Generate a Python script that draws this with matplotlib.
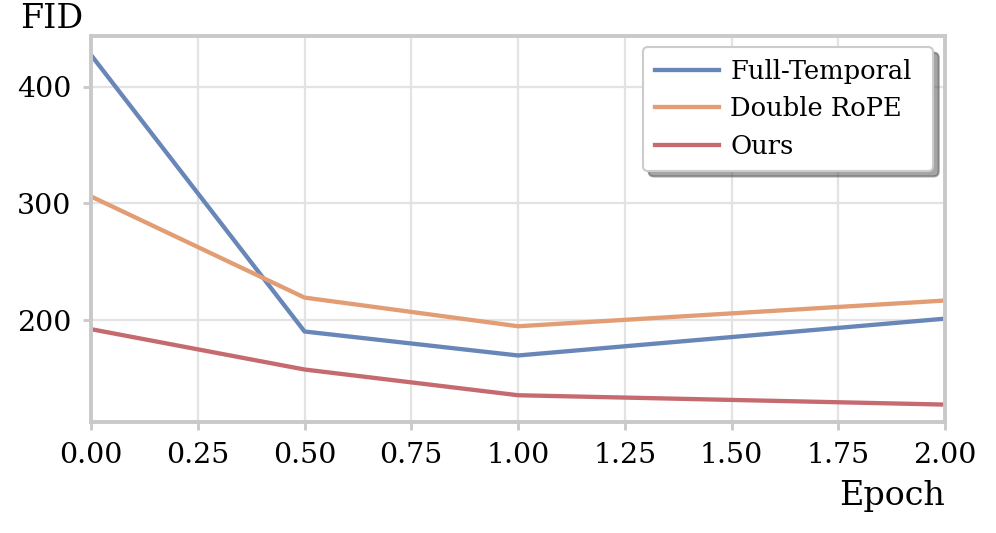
import matplotlib

matplotlib.use("Agg")
import matplotlib.pyplot as plt

epochs = [0.0, 0.5, 1.0, 2.0]
full_temporal = [427, 190.5, 170, 201.5]
double_rope = [306, 219.5, 195, 217]
ours = [192.5, 158, 136, 128]

series = [
    ("Full-Temporal", full_temporal, "#6886b7"),
    ("Double RoPE", double_rope, "#e29d75"),
    ("Ours", ours, "#c56b6f"),
]

plt.rcParams.update({
    "font.family": "DejaVu Serif",
    "font.size": 20,
})

fig = plt.figure(figsize=(9.96, 5.33), dpi=100)
ax = fig.add_axes([0.0914, 0.208, 0.8575, 0.724])

for label, vals, color in series:
    ax.plot(epochs, vals, color=color, linewidth=3.1, label=label)

ax.set_xlim(0, 2)
ax.set_ylim(113, 443)
ax.set_xticks([0, 0.25, 0.5, 0.75, 1.0, 1.25, 1.5, 1.75, 2.0])
ax.set_xticklabels([f"{v:.2f}" for v in ax.get_xticks()])
ax.set_yticks([200, 300, 400])

ax.grid(True, color="#e3e3e3", linewidth=1.6)
ax.set_axisbelow(True)
for spine in ax.spines.values():
    spine.set_color("#c9c9c9")
    spine.set_linewidth(2.8)
ax.tick_params(axis="both", colors="#c9c9c9", labelcolor="black",
               length=6, width=2.0, labelsize=20.5, pad=8)

fig.text(0.02, 0.965, "FID", fontsize=24, va="center", ha="left")
fig.text(0.949, 0.07, "Epoch", fontsize=24, va="center", ha="right")

# original legend box is wider than its text, so expand it into a fixed box
leg = ax.legend(loc="upper left", bbox_to_anchor=(0.6464, 0.0, 0.3396, 0.972),
                mode="expand", shadow={"ox": 4, "oy": -4}, fancybox=True,
                fontsize=18.5, handlelength=2.5, handletextpad=0.45,
                borderpad=0.45, labelspacing=0.5, borderaxespad=0.0)
leg.get_frame().set_edgecolor("#cccccc")
leg.get_frame().set_linewidth(1.5)

fig.savefig("out.png", dpi=100)
